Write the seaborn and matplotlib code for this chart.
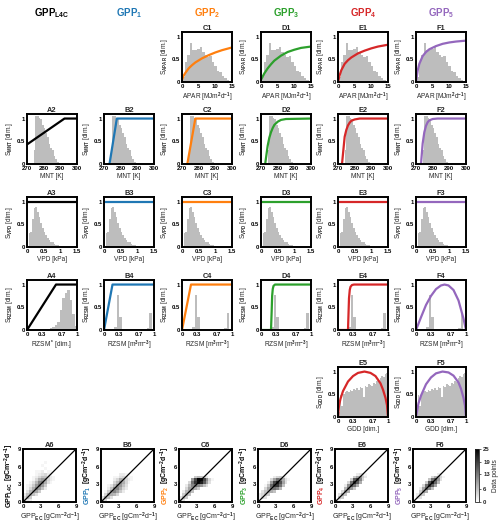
import numpy as np
import pandas as pd
import matplotlib
matplotlib.use('Agg')
import matplotlib.pyplot as plt
from matplotlib.cm import ScalarMappable
from matplotlib.colors import Normalize
import seaborn as sns

sns.set_theme(style='white')
plt.rcParams['font.family'] = ['Liberation Sans', 'DejaVu Sans']
plt.rcParams['font.weight'] = 'bold'
plt.rcParams['mathtext.fontset'] = 'custom'
plt.rcParams['mathtext.rm'] = 'Liberation Sans:bold'
plt.rcParams['mathtext.it'] = 'Liberation Sans:bold'
plt.rcParams['mathtext.bf'] = 'Liberation Sans:bold'
plt.rcParams['mathtext.default'] = 'rm'

# ---- model names / colours ----
models = ['GPP$_{L4C}$', 'GPP$_1$', 'GPP$_2$', 'GPP$_3$', 'GPP$_4$', 'GPP$_5$']
model_colors = ['black', '#1f77b4', '#ff7f0e', '#2ca02c', '#d62728', '#9467bd']
letters = ['A', 'B', 'C', 'D', 'E', 'F']
hist_grey = '#bdbdbd'

# ---- APAR ----
apar_edges = np.arange(0, 15.01, 0.75)
apar_hist = [0.1, 0.45, 0.6, 0.86, 0.7, 0.7, 0.72, 0.78, 0.65, 0.6,
             0.55, 0.58, 0.45, 0.35, 0.25, 0.22, 0.14, 0.08, 0.04, 0.01]
apar_x = [0, 0.5, 1, 2, 3, 4, 6, 8, 10, 12, 15]
apar_c = [0.05, 0.14, 0.2, 0.3, 0.37, 0.43, 0.52, 0.59, 0.65, 0.7, 0.76]
apar_d = [0.05, 0.12, 0.19, 0.3, 0.39, 0.47, 0.58, 0.66, 0.71, 0.75, 0.78]
apar_e = [0.0, 0.15, 0.26, 0.4, 0.48, 0.54, 0.63, 0.69, 0.74, 0.78, 0.82]
apar_f = [0.0, 0.25, 0.4, 0.57, 0.66, 0.72, 0.79, 0.84, 0.87, 0.89, 0.91]

# ---- MNT ----
mnt_edges = np.arange(274, 289.01, 1.0)
mnt_hist = [0.3, 1.05, 1.05, 1.02, 0.98, 0.85, 0.8, 0.68, 0.6, 0.45,
            0.35, 0.3, 0.18, 0.1, 0.05]
mnt_a = ([270, 292.5, 300], [0.43, 1, 1])
mnt_b = ([273.3, 277.7, 300], [0, 1, 1])
mnt_c = ([273.2, 278.0, 300], [0, 1, 1])
mnt_d = ([272.5, 274, 275, 276, 277, 278, 280, 282, 285, 300],
         [0, 0.4, 0.58, 0.7, 0.79, 0.86, 0.93, 0.97, 0.99, 1])
mnt_e = ([272.4, 274, 275, 276, 277, 278, 280, 283, 300],
         [0, 0.6, 0.75, 0.85, 0.91, 0.95, 0.98, 1, 1])
mnt_f = ([273, 274, 275, 276, 277, 278, 280, 283, 300],
         [0, 0.45, 0.7, 0.84, 0.92, 0.96, 0.99, 1, 1])

# ---- VPD ----
vpd_edges = np.arange(0, 1.201, 0.05)
vpd_hist = [0.0, 0.3, 0.32, 0.62, 0.85, 0.87, 0.78, 0.65, 0.52, 0.42, 0.33, 0.26,
            0.2, 0.16, 0.12, 0.1, 0.07, 0.05, 0.04, 0.03, 0.02, 0.015, 0.01, 0.01]
vpd_line = ([0, 1.5], [1, 1])

# ---- RZSM ----
rzsm_edges = np.arange(0, 1.001, 0.05)
rzsm_star_hist = [0, 0, 0, 0, 0, 0, 0.01, 0.02, 0.03, 0.04,
                  0.06, 0.1, 0.18, 0.45, 0.7, 0.82, 0.87, 0.65, 0.35, 0.08]
rzsm_hist = [0, 0, 0, 0.02, 0.06, 0.78, 0.28, 0.02, 0, 0,
             0, 0, 0, 0, 0, 0, 0, 0.05, 0.38, 0]
rzsm_a = ([0, 0.58, 1], [0, 1, 1])
rzsm_b = ([0, 0.17, 1], [0, 1, 1])
rzsm_c = ([0, 0.18, 1], [0, 1, 1])
rzsm_d = ([0, 0.2, 0.213, 0.223, 0.235, 0.25, 0.28, 1],
          [0, 0, 0.4, 0.75, 0.9, 0.97, 1, 1])
rzsm_e = ([0, 0.2, 0.21, 0.22, 0.235, 0.25, 0.28, 0.32, 1],
          [0, 0, 0.35, 0.7, 0.88, 0.95, 0.99, 1, 1])
rzsm_f = ([0, 0.1, 0.2, 0.3, 0.4, 0.5, 0.57, 0.65, 0.75, 0.85, 0.9, 0.95, 1.0],
          [0, 0.28, 0.55, 0.75, 0.9, 0.98, 1.0, 0.98, 0.88, 0.65, 0.45, 0.25, 0])

# ---- GDD ----
gdd_edges = np.linspace(0, 1, 31)
gdd_hist = [0.12, 0.48, 0.25, 0.5, 0.55, 0.57, 0.55, 0.6, 0.58, 0.62,
            0.6, 0.63, 0.6, 0.65, 0.63, 0.45, 0.68, 0.65, 0.72, 0.7,
            0.68, 0.75, 0.73, 0.8, 0.78, 0.85, 0.9, 0.88, 0.95, 0.97]
gdd_x = [0, 0.02, 0.05, 0.1, 0.2, 0.3, 0.4, 0.53, 0.65, 0.75, 0.85, 0.9, 0.95, 0.98, 1.0]
gdd_e = [0, 0.25, 0.4, 0.57, 0.78, 0.9, 0.97, 1.0, 0.97, 0.9, 0.74, 0.6, 0.42, 0.26, 0]
gdd_f = [0, 0.12, 0.3, 0.47, 0.72, 0.87, 0.96, 1.0, 0.98, 0.91, 0.76, 0.62, 0.42, 0.25, 0]

# ---- GPP model vs EC: 2D histogram cells (GPP_EC, GPP_model, count) ----
cells_a6 = [(0.25, 0.25, 5), (0.25, 0.75, 4), (0.25, 1.25, 2), (1.25, 0.25, 2),
            (0.75, 0.25, 3), (0.75, 0.75, 7), (0.75, 1.25, 6), (0.75, 1.75, 3), (0.75, 2.25, 1), (0.75, 2.75, 1),
            (1.25, 0.75, 5), (1.25, 1.25, 8), (1.25, 1.75, 7), (1.25, 2.25, 4), (1.25, 2.75, 2), (1.25, 3.25, 1),
            (1.75, 1.25, 6), (1.75, 1.75, 9), (1.75, 2.25, 8), (1.75, 2.75, 5), (1.75, 3.25, 3), (1.75, 3.75, 1), (1.75, 4.25, 1),
            (2.25, 1.25, 3), (2.25, 1.75, 9), (2.25, 2.25, 12), (2.25, 2.75, 10), (2.25, 3.25, 7), (2.25, 3.75, 4), (2.25, 4.25, 2),
            (2.25, 4.75, 1), (2.25, 5.25, 1),
            (2.75, 1.75, 5), (2.75, 2.25, 10), (2.75, 2.75, 13), (2.75, 3.25, 12), (2.75, 3.75, 8), (2.75, 4.25, 4), (2.75, 4.75, 2), (2.75, 5.25, 1),
            (3.25, 2.25, 6), (3.25, 2.75, 10), (3.25, 3.25, 13), (3.25, 3.75, 10), (3.25, 4.25, 6), (3.25, 4.75, 3), (3.25, 5.25, 2), (3.25, 6.25, 1),
            (3.75, 2.25, 2), (3.75, 2.75, 5), (3.75, 3.25, 8), (3.75, 3.75, 9), (3.75, 4.25, 6), (3.75, 4.75, 4), (3.75, 5.75, 1), (3.75, 6.75, 1),
            (4.25, 3.25, 3), (4.25, 3.75, 4), (4.25, 4.25, 4), (4.25, 4.75, 2), (4.25, 5.25, 1),
            (4.75, 3.25, 1), (4.75, 3.75, 2), (4.75, 4.25, 2), (4.75, 4.75, 1), (4.75, 5.25, 1),
            (5.25, 3.75, 1), (5.25, 4.25, 1)]
cells_b6 = [(0.25, 0.25, 6), (0.25, 0.75, 3),
            (0.75, 0.25, 4), (0.75, 0.75, 8), (0.75, 1.25, 4), (0.75, 1.75, 1),
            (1.25, 0.75, 6), (1.25, 1.25, 9), (1.25, 1.75, 5), (1.25, 2.25, 2), (1.25, 2.75, 1),
            (1.75, 0.75, 3), (1.75, 1.25, 8), (1.75, 1.75, 10), (1.75, 2.25, 6), (1.75, 2.75, 3),
            (2.25, 1.25, 7), (2.25, 1.75, 12), (2.25, 2.25, 11), (2.25, 2.75, 7), (2.25, 3.25, 4), (2.25, 3.75, 2), (2.25, 4.25, 1),
            (2.75, 1.25, 4), (2.75, 1.75, 9), (2.75, 2.25, 12), (2.75, 2.75, 11), (2.75, 3.25, 7), (2.75, 3.75, 4), (2.75, 4.25, 1),
            (3.25, 1.75, 5), (3.25, 2.25, 8), (3.25, 2.75, 10), (3.25, 3.25, 11), (3.25, 3.75, 8), (3.25, 4.25, 3), (3.25, 4.75, 2),
            (3.75, 1.75, 2), (3.75, 2.25, 4), (3.75, 2.75, 6), (3.75, 3.25, 8), (3.75, 3.75, 7), (3.75, 4.25, 4), (3.75, 4.75, 2),
            (4.25, 2.25, 2), (4.25, 2.75, 3), (4.25, 3.25, 4), (4.25, 3.75, 4), (4.25, 4.25, 3), (4.25, 4.75, 1),
            (4.75, 3.25, 1), (4.75, 3.75, 2), (4.75, 4.25, 1), (4.75, 4.75, 1),
            (5.25, 3.75, 1), (5.25, 4.25, 1)]
cells_c6 = [(0.25, 0.25, 5), (0.25, 0.75, 3),
            (0.75, 0.25, 3), (0.75, 0.75, 7), (0.75, 1.25, 5), (0.75, 1.75, 2),
            (1.25, 0.75, 5), (1.25, 1.25, 8), (1.25, 1.75, 7), (1.25, 2.25, 4), (1.25, 2.75, 2),
            (1.75, 1.25, 6), (1.75, 1.75, 9), (1.75, 2.25, 9), (1.75, 2.75, 7), (1.75, 3.25, 4),
            (2.25, 1.75, 6), (2.25, 2.25, 10), (2.25, 2.75, 12), (2.25, 3.25, 14), (2.25, 3.75, 10),
            (2.75, 2.25, 8), (2.75, 2.75, 14), (2.75, 3.25, 20), (2.75, 3.75, 18), (2.75, 4.25, 5),
            (3.25, 2.25, 5), (3.25, 2.75, 12), (3.25, 3.25, 24), (3.25, 3.75, 25), (3.25, 4.25, 7),
            (3.75, 2.75, 10), (3.75, 3.25, 22), (3.75, 3.75, 24), (3.75, 4.25, 6),
            (4.25, 2.75, 6), (4.25, 3.25, 16), (4.25, 3.75, 18), (4.25, 4.25, 4),
            (4.75, 2.75, 3), (4.75, 3.25, 9), (4.75, 3.75, 11), (4.75, 4.25, 2),
            (5.25, 3.25, 3), (5.25, 3.75, 4), (5.75, 3.75, 1)]
cells_d6 = [(0.25, 0.75, 2), (0.25, 1.25, 2),
            (0.75, 0.75, 4), (0.75, 1.25, 4), (0.75, 1.75, 3),
            (1.25, 0.75, 3), (1.25, 1.25, 6), (1.25, 1.75, 6), (1.25, 2.25, 4), (1.25, 2.75, 1),
            (1.75, 1.25, 5), (1.75, 1.75, 8), (1.75, 2.25, 9), (1.75, 2.75, 6), (1.75, 3.25, 2),
            (2.25, 1.75, 8), (2.25, 2.25, 13), (2.25, 2.75, 15), (2.25, 3.25, 10), (2.25, 3.75, 4),
            (2.75, 1.75, 6), (2.75, 2.25, 14), (2.75, 2.75, 20), (2.75, 3.25, 18), (2.75, 3.75, 9), (2.75, 4.25, 2),
            (3.25, 2.25, 12), (3.25, 2.75, 20), (3.25, 3.25, 22), (3.25, 3.75, 14), (3.25, 4.25, 4),
            (3.75, 2.25, 7), (3.75, 2.75, 14), (3.75, 3.25, 17), (3.75, 3.75, 12), (3.75, 4.25, 5),
            (4.25, 2.75, 6), (4.25, 3.25, 9), (4.25, 3.75, 8), (4.25, 4.25, 3),
            (4.75, 3.25, 3), (4.75, 3.75, 3), (4.75, 4.25, 1), (5.25, 3.75, 1)]
cells_e6 = [(0.25, 0.25, 3),
            (0.75, 0.25, 2), (0.75, 0.75, 6), (0.75, 1.25, 3),
            (1.25, 0.75, 5), (1.25, 1.25, 8), (1.25, 1.75, 4),
            (1.75, 1.25, 6), (1.75, 1.75, 10), (1.75, 2.25, 7), (1.75, 2.75, 2),
            (2.25, 1.75, 8), (2.25, 2.25, 13), (2.25, 2.75, 11), (2.25, 3.25, 4),
            (2.75, 2.25, 10), (2.75, 2.75, 17), (2.75, 3.25, 14), (2.75, 3.75, 5),
            (3.25, 2.25, 5), (3.25, 2.75, 14), (3.25, 3.25, 21), (3.25, 3.75, 16), (3.25, 4.25, 5),
            (3.75, 2.75, 8), (3.75, 3.25, 16), (3.75, 3.75, 19), (3.75, 4.25, 9), (3.75, 4.75, 2),
            (4.25, 3.25, 8), (4.25, 3.75, 12), (4.25, 4.25, 10), (4.25, 4.75, 3),
            (4.75, 3.75, 4), (4.75, 4.25, 5), (4.75, 4.75, 3),
            (5.25, 4.25, 2), (5.25, 4.75, 1)]
cells_f6 = [(0.75, 0.75, 3), (0.75, 1.25, 2),
            (1.25, 0.75, 3), (1.25, 1.25, 6), (1.25, 1.75, 5), (1.25, 2.25, 2),
            (1.75, 1.25, 5), (1.75, 1.75, 10), (1.75, 2.25, 9), (1.75, 2.75, 4),
            (2.25, 1.75, 8), (2.25, 2.25, 15), (2.25, 2.75, 14), (2.25, 3.25, 5),
            (2.75, 2.25, 12), (2.75, 2.75, 20), (2.75, 3.25, 17), (2.75, 3.75, 6),
            (3.25, 2.25, 6), (3.25, 2.75, 16), (3.25, 3.25, 22), (3.25, 3.75, 14), (3.25, 4.25, 4),
            (3.75, 2.75, 9), (3.75, 3.25, 15), (3.75, 3.75, 16), (3.75, 4.25, 8),
            (4.25, 3.25, 7), (4.25, 3.75, 10), (4.25, 4.25, 8), (4.25, 4.75, 2),
            (4.75, 3.75, 3), (4.75, 4.25, 4), (4.75, 4.75, 2), (5.25, 4.25, 1)]
one_to_one = [0, 9]
cbar_ticks = [0, 6, 13, 19, 25]

# ---- layout (pixels) ----
W, H = 500, 530
col_left = [27, 104, 182, 261, 338, 416]
col_left6 = [23, 101, 179, 258, 335, 413]
row_top = [32, 114, 197, 280, 367, 449]
FS_TICK, FS_LAB, FS_TITLE = 4.3, 4.7, 5.3
CMAP = 'gray_r'

fig = plt.figure(figsize=(W / 100, H / 100), dpi=100)


def add_panel(left, top, w, h):
    return fig.add_axes([left / W, 1 - (top + h) / H, w / W, h / H])


def style(ax):
    for s in ax.spines.values():
        s.set_visible(True)
        s.set_linewidth(1.4)
        s.set_color('black')
    ax.tick_params(direction='in', length=2, width=0.7, labelsize=FS_TICK,
                   pad=1.5, colors='black')


def response_panel(row, col, edges, heights, curve, xlim, xticks, xticklabels,
                   xlabel, ylabel):
    ax = add_panel(col_left[col], row_top[row], 50, 50)
    edges = [float(e) for e in edges]
    hist_df = pd.DataFrame({'x': [(a + b) / 2 for a, b in zip(edges[:-1], edges[1:])],
                            'w': list(heights)})
    sns.histplot(data=hist_df, x='x', weights='w', bins=edges, ax=ax, color=hist_grey,
                 alpha=1, linewidth=0)
    sns.lineplot(x=list(curve[0]), y=list(curve[1]), ax=ax, color=model_colors[col],
                 linewidth=1.6, estimator=None, sort=False)
    ax.set_xlim(*xlim)
    ax.set_ylim(0, 1.1)
    ax.set_xticks(xticks)
    ax.set_xticklabels(xticklabels)
    ax.set_yticks([0, 0.5, 1])
    ax.set_yticklabels(['0', '0.5', '1'])
    ax.set_xlabel(xlabel, fontsize=FS_LAB, labelpad=1.5)
    ax.set_ylabel(ylabel, fontsize=FS_LAB, labelpad=1)
    ax.set_title(f'{letters[col]}{row + 1}', fontsize=FS_TITLE, fontweight='bold', pad=1.5)
    style(ax)
    return ax


# headers
for j in range(6):
    fig.text((col_left[j] + 25) / W, 1 - 13 / H, models[j], ha='center', va='center',
             fontsize=7, fontweight='bold', color=model_colors[j])

# row 1: APAR
apar_lab = 'APAR [MJm$^2$d$^{-1}$]'
for col, ys in zip([2, 3, 4, 5], [apar_c, apar_d, apar_e, apar_f]):
    response_panel(0, col, apar_edges, apar_hist, (apar_x, ys), (0, 15),
                   [0, 5, 10, 15], ['0', '5', '10', '15'], apar_lab,
                   'S$_{APAR}$ [dim.]')

# row 2: MNT
for col, cv in enumerate([mnt_a, mnt_b, mnt_c, mnt_d, mnt_e, mnt_f]):
    response_panel(1, col, mnt_edges, mnt_hist, cv, (270, 300),
                   [270, 280, 290, 300], ['270', '280', '290', '300'], 'MNT [K]',
                   'S$_{MNT}$ [dim.]')

# row 3: VPD
for col in range(6):
    response_panel(2, col, vpd_edges, vpd_hist, vpd_line, (0, 1.5),
                   [0, 0.5, 1, 1.5], ['0', '0.5', '1', '1.5'], 'VPD [kPa]',
                   'S$_{VPD}$ [dim.]')

# row 4: RZSM
for col, cv in enumerate([rzsm_a, rzsm_b, rzsm_c, rzsm_d, rzsm_e, rzsm_f]):
    hist = rzsm_star_hist if col == 0 else rzsm_hist
    lab = 'RZSM$^*$ [dim.]' if col == 0 else 'RZSM [m$^3$m$^{-3}$]'
    response_panel(3, col, rzsm_edges, hist, cv, (0, 1),
                   [0, 0.3, 0.7, 1], ['0', '0.3', '0.7', '1'], lab,
                   'S$_{RZSM}$ [dim.]')

# row 5: GDD
for col, ys in zip([4, 5], [gdd_e, gdd_f]):
    response_panel(4, col, gdd_edges, gdd_hist, (gdd_x, ys), (0, 1),
                   [0, 0.3, 0.7, 1], ['0', '0.3', '0.7', '1'], 'GDD [dim.]',
                   'S$_{GDD}$ [dim.]')

# row 6: model vs EC
unit = '[gCm$^{-2}$d$^{-1}$]'
pairs = []
for col, cells in enumerate([cells_a6, cells_b6, cells_c6, cells_d6, cells_e6, cells_f6]):
    ax = add_panel(col_left6[col], row_top[5], 53, 53)
    cell_df = pd.DataFrame(cells, columns=['ec', 'model', 'n'])
    sns.histplot(data=cell_df, x='ec', y='model', weights='n', binwidth=0.5,
                 binrange=(0, 9), cmap=CMAP, vmin=0, vmax=25, ax=ax)
    ax.collections[0].set_clim(0, 25)
    sns.lineplot(x=one_to_one, y=one_to_one, ax=ax, color='black', linewidth=0.9)
    ax.set_xlim(0, 9)
    ax.set_ylim(0, 9)
    ax.set_xticks([0, 3, 6, 9])
    ax.set_yticks([0, 3, 6, 9])
    ax.set_xticklabels(['0', '3', '6', '9'])
    ax.set_yticklabels(['0', '3', '6', '9'])
    ax.set_xlabel('GPP$_{EC}$ ' + unit, fontsize=FS_LAB + 0.3, labelpad=1.5)
    ax.set_ylabel('')
    ax.set_title(f'{letters[col]}6', fontsize=FS_TITLE, fontweight='bold', pad=1.5)
    style(ax)
    t1 = ax.text(-0.25, 0.0, models[col], rotation=90, color=model_colors[col],
                 transform=ax.transAxes, ha='center', va='bottom', fontsize=FS_LAB + 0.3)
    t2 = ax.annotate(unit, xy=(0.5, 1.0), xycoords=t1, xytext=(0, 1.2),
                     textcoords='offset points', rotation=90, ha='center',
                     va='bottom', fontsize=FS_LAB + 0.3, color='black')
    pairs.append((ax, t1, t2))

# centre the two-coloured y labels
fig.canvas.draw()
for ax, t1, t2 in pairs:
    b1 = t1.get_window_extent()
    b2 = t2.get_window_extent()
    axb = ax.get_window_extent()
    total = b2.y1 - b1.y0
    start = axb.y0 + (axb.height - total) / 2
    t1.set_position((-0.25, (start - axb.y0) / axb.height))

# colorbar
cax = add_panel(475, row_top[5], 4, 53)
cb = fig.colorbar(ScalarMappable(norm=Normalize(0, 25), cmap=CMAP), cax=cax,
                  ticks=cbar_ticks)
cb.ax.tick_params(labelsize=FS_TICK, length=1.5, width=0.5, pad=1.5)
cb.outline.set_linewidth(0.6)
cb.set_label('Data points', fontsize=FS_LAB, labelpad=1.5)

fig.savefig('out.png', dpi=100)
